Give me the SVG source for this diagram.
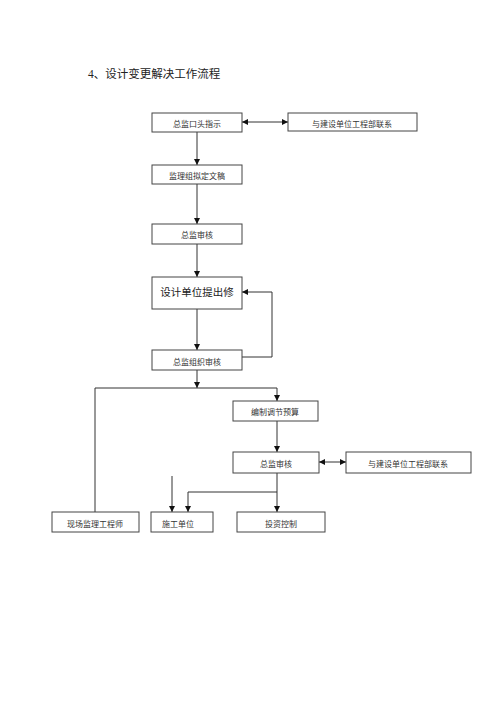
<svg xmlns="http://www.w3.org/2000/svg" width="500" height="707" viewBox="0 0 500 707">
<style>
.box{fill:#fff;stroke:#444;stroke-width:1}
.t{font-family:"Liberation Serif","Noto Sans CJK SC",serif;font-size:8px;fill:#333;text-anchor:middle}
.tb{font-family:"Liberation Serif","Noto Sans CJK SC",serif;font-size:10.5px;fill:#222;text-anchor:middle}
.ln{fill:none;stroke:#333;stroke-width:1}
</style>
<defs>
<marker id="ah" viewBox="0 0 8 8" refX="8" refY="4" markerWidth="6" markerHeight="6" orient="auto-start-reverse" markerUnits="userSpaceOnUse">
<path d="M0,0 L8,4 L0,8 Z" fill="#111"/>
</marker>
</defs>
<rect width="500" height="707" fill="#fff"/>
<text x="88" y="78" style="font-family:'Liberation Serif','Noto Sans CJK SC',serif;font-size:11.5px;fill:#222">4、设计变更解决工作流程</text>
<g id="connectors">
<line class="ln" x1="197" y1="132" x2="197" y2="165" marker-end="url(#ah)"/>
<line class="ln" x1="242" y1="122" x2="288" y2="122" marker-start="url(#ah)" marker-end="url(#ah)"/>
<line class="ln" x1="197" y1="184" x2="197" y2="224" marker-end="url(#ah)"/>
<line class="ln" x1="197" y1="244" x2="197" y2="277" marker-end="url(#ah)"/>
<line class="ln" x1="197" y1="309" x2="197" y2="350" marker-end="url(#ah)"/>
<polyline class="ln" points="242,357 272,357 272,292 242,292" marker-end="url(#ah)"/>
<line class="ln" x1="197" y1="370" x2="197" y2="388" marker-end="url(#ah)"/>
<polyline class="ln" points="95,512 95,388 277,388 277,401" marker-end="url(#ah)"/>
<line class="ln" x1="277" y1="421" x2="277" y2="452" marker-end="url(#ah)"/>
<line class="ln" x1="319" y1="462" x2="346" y2="462" marker-start="url(#ah)" marker-end="url(#ah)"/>
<line class="ln" x1="277" y1="473" x2="277" y2="512" marker-end="url(#ah)"/>
<polyline class="ln" points="277,492 188,492 188,512" marker-end="url(#ah)"/>
<line class="ln" x1="172" y1="476" x2="172" y2="512" marker-end="url(#ah)"/>
</g>
<g id="n1"><rect class="box" x="152" y="113" width="90" height="19"/><text class="t" x="197" y="127">总监口头指示</text></g>
<g id="n2"><rect class="box" x="288" y="113" width="129" height="18"/><text class="t" x="352" y="127">与建设单位工程部联系</text></g>
<g id="n3"><rect class="box" x="152" y="165" width="90" height="19"/><text class="t" x="197" y="179">监理组拟定文稿</text></g>
<g id="n4"><rect class="box" x="152" y="224" width="90" height="20"/><text class="t" x="197" y="238">总监审核</text></g>
<g id="n5"><rect class="box" x="152" y="277" width="90" height="32"/><text class="tb" x="197" y="296">设计单位提出修</text></g>
<g id="n6"><rect class="box" x="152" y="350" width="90" height="20"/><text class="t" x="197" y="365">总监组织审核</text></g>
<g id="n7"><rect class="box" x="233" y="401" width="85" height="20"/><text class="t" x="275" y="415">编制调节预算</text></g>
<g id="n8"><rect class="box" x="233" y="452" width="86" height="21"/><text class="t" x="276" y="467">总监审核</text></g>
<g id="n9"><rect class="box" x="346" y="452" width="125" height="21"/><text class="t" x="408" y="467">与建设单位工程部联系</text></g>
<g id="n10"><rect class="box" x="52" y="512" width="87" height="20"/><text class="t" x="95" y="527">现场监理工程师</text></g>
<g id="n11"><rect class="box" x="151" y="512" width="62" height="20"/><text class="t" x="178" y="527">施工单位</text></g>
<g id="n12"><rect class="box" x="237" y="512" width="88" height="20"/><text class="t" x="281" y="527">投资控制</text></g>
</svg>
